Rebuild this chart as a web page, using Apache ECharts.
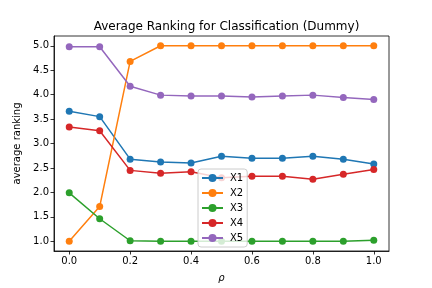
<!DOCTYPE html>
<html><head><meta charset="utf-8">
<script src="https://cdn.jsdelivr.net/npm/echarts@6/dist/echarts.min.js"></script>
<style>html,body{margin:0;padding:0;background:#fff}#c{width:432px;height:288px}</style>
</head><body><div id="c"></div>
<script>
const rho = [0.0, 0.1, 0.2, 0.3, 0.4, 0.5, 0.6, 0.7, 0.8, 0.9, 1.0];
const X1 = [3.66, 3.55, 2.68, 2.62, 2.60, 2.74, 2.70, 2.70, 2.74, 2.68, 2.58];
const X2 = [1.00, 1.71, 4.68, 5.00, 5.00, 5.00, 5.00, 5.00, 5.00, 5.00, 5.00];
const X3 = [1.99, 1.46, 1.01, 1.00, 1.00, 1.00, 1.00, 1.00, 1.00, 1.00, 1.02];
const X4 = [3.34, 3.26, 2.45, 2.39, 2.42, 2.30, 2.33, 2.33, 2.27, 2.37, 2.47];
const X5 = [4.98, 4.98, 4.17, 3.99, 3.97, 3.97, 3.95, 3.97, 3.99, 3.94, 3.90];
const seriesNames = ['X1', 'X2', 'X3', 'X4', 'X5'];
const xTicks = [0.0, 0.2, 0.4, 0.6, 0.8, 1.0];
const yTicks = [1.0, 1.5, 2.0, 2.5, 3.0, 3.5, 4.0, 4.5, 5.0];
const colors = ['#1f77b4', '#ff7f0e', '#2ca02c', '#d62728', '#9467bd'];

const allData = [X1, X2, X3, X4, X5];
const font = 'DejaVu Sans';
const chart = echarts.init(document.getElementById('c'), null, {renderer: 'canvas'});
chart.setOption({
  animation: false,
  color: colors,
  textStyle: {fontFamily: font},
  title: {
    text: 'Average Ranking for Classification (Dummy)',
    left: 221.5, top: 16, textAlign: 'center',
    textStyle: {fontFamily: font, fontSize: 12, fontWeight: 'normal', color: '#000'}
  },
  grid: {left: 54, right: 43, top: 36, bottom: 36, show: true, borderColor: '#000', borderWidth: 0.8, backgroundColor: 'transparent'},
  legend: {
    data: seriesNames,
    orient: 'vertical', left: 198, top: 169,
    padding: [4, 4, 4, 3],
    itemWidth: 21, itemHeight: 10, itemGap: 5,
    backgroundColor: 'rgba(255,255,255,0.8)',
    borderColor: '#cccccc', borderWidth: 1, borderRadius: 3,
    textStyle: {fontFamily: font, fontSize: 10, color: '#000', padding: [0, 0, 0, 2]}
  },
  xAxis: {
    type: 'value', min: -0.05, max: 1.05,
    name: 'ρ', nameLocation: 'middle', nameGap: 22,
    nameTextStyle: {fontFamily: font, fontSize: 10, fontStyle: 'italic', color: '#000'},
    splitLine: {show: false},
    axisLine: {show: true, onZero: false, lineStyle: {color: '#000', width: 0.8}},
    axisTick: {show: true, customValues: xTicks, length: 3.5, lineStyle: {color: '#000', width: 0.8}},
    axisLabel: {customValues: xTicks, fontFamily: font, fontSize: 10, color: '#000', margin: 5,
      formatter: v => v.toFixed(1)}
  },
  yAxis: {
    type: 'value', min: 0.8, max: 5.2,
    name: 'average ranking', nameLocation: 'middle', nameGap: 28, nameRotate: 90,
    nameTextStyle: {fontFamily: font, fontSize: 10, color: '#000'},
    splitLine: {show: false},
    axisLine: {show: true, onZero: false, lineStyle: {color: '#000', width: 0.8}},
    axisTick: {show: true, customValues: yTicks, length: 3.5, lineStyle: {color: '#000', width: 0.8}},
    axisLabel: {customValues: yTicks, fontFamily: font, fontSize: 10, color: '#000', margin: 5,
      formatter: v => v.toFixed(1)}
  },
  series: seriesNames.map((n, i) => ({
    name: n, type: 'line',
    data: rho.map((x, j) => [x, allData[i][j]]),
    symbol: 'circle', symbolSize: 7, showSymbol: true,
    lineStyle: {width: 1.5, color: colors[i]},
    itemStyle: {color: colors[i]},
    emphasis: {disabled: true}
  }))
});
</script></body></html>
